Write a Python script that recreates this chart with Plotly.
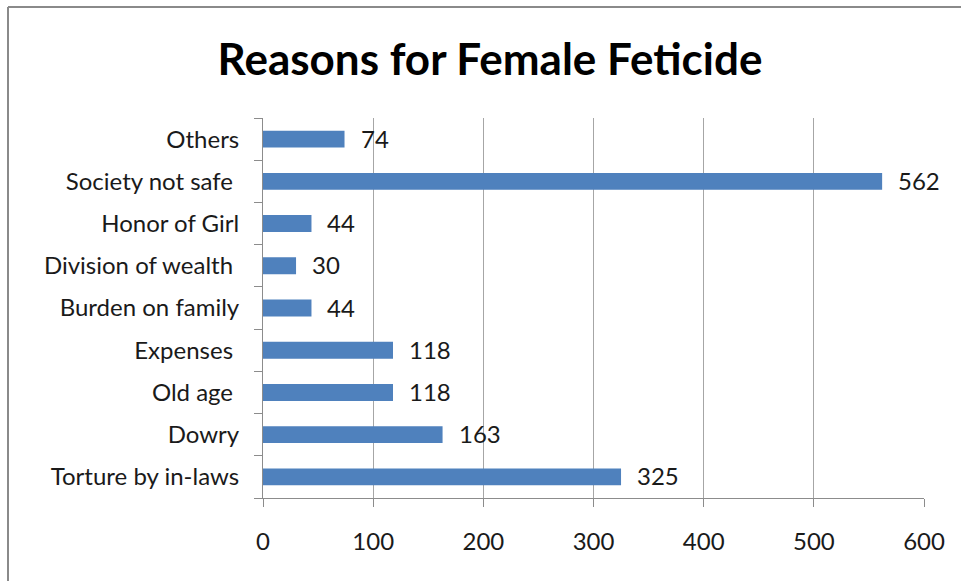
import plotly.graph_objects as go

# Reasons listed bottom-to-top as they appear on the category axis
reasons = [
    "Torture by in-laws",
    "Dowry",
    "Old age\u00a0",
    "Expenses\u00a0",
    "Burden on family",
    "Division of wealth\u00a0",
    "Honor of Girl",
    "Society not safe\u00a0",
    "Others",
]
counts = [325, 163, 118, 118, 44, 30, 44, 562, 74]
x_ticks = [0, 100, 200, 300, 400, 500, 600]

W, H = 961, 581
ML, MR, MT, MB = 263, 37, 118, 83
pw, ph = W - ML - MR, H - MT - MB

bar_color = "#4F81BD"
grid_color = "#A6A6A6"
axis_color = "#8C8C8C"
font_family = "Lato, 'Open Sans', sans-serif"
label_size = 24

fig = go.Figure()
fig.add_trace(go.Bar(
    x=counts,
    y=reasons,
    orientation="h",
    marker=dict(color=bar_color, line=dict(width=0)),
    hoverinfo="x+y",
))

# value labels just right of each bar
for r, c in zip(reasons, counts):
    fig.add_annotation(
        x=c, y=r, text=str(c), showarrow=False,
        xanchor="left", yanchor="middle", xshift=14, yshift=1,
        font=dict(family=font_family, size=label_size, color="#1a1a1a"),
    )

# chart frame (left and top edges)
fx0 = (8 - ML) / pw
fy1 = (H - MB - 7) / ph
fig.add_shape(type="line", xref="paper", yref="paper",
              x0=fx0, x1=fx0, y0=-1, y1=fy1,
              line=dict(color="#8A8A8A", width=2))
fig.add_shape(type="line", xref="paper", yref="paper",
              x0=fx0, x1=2, y0=fy1, y1=fy1,
              line=dict(color="#8A8A8A", width=2))

fig.update_layout(
    width=W, height=H,
    margin=dict(l=ML, r=MR, t=MT, b=MB, autoexpand=False),
    paper_bgcolor="white",
    plot_bgcolor="white",
    bargap=0.6,
    showlegend=False,
    title=dict(
        text="<b>Reasons for Female Feticide</b>",
        x=490 / W, xanchor="center",
        y=1 - 60 / H, yanchor="middle",
        font=dict(family=font_family, size=44, color="black"),
    ),
    xaxis=dict(
        range=[0, 600],
        tickvals=x_ticks,
        ticktext=[str(v) for v in x_ticks],
        showgrid=True, gridcolor=grid_color, gridwidth=1,
        showline=True, linecolor=axis_color, linewidth=1,
        ticks="outside", ticklen=8, tickcolor=axis_color,
        ticklabelstandoff=14,
        zeroline=False,
        tickfont=dict(family=font_family, size=label_size, color="#1a1a1a"),
        fixedrange=True,
    ),
    yaxis=dict(
        showgrid=False,
        showline=True, linecolor=axis_color, linewidth=1,
        ticks="outside", ticklen=8, tickcolor=axis_color,
        tickson="boundaries",
        ticklabelstandoff=18,
        tickfont=dict(family=font_family, size=label_size, color="#1a1a1a"),
        fixedrange=True,
    ),
)

fig.write_html("out.html")
